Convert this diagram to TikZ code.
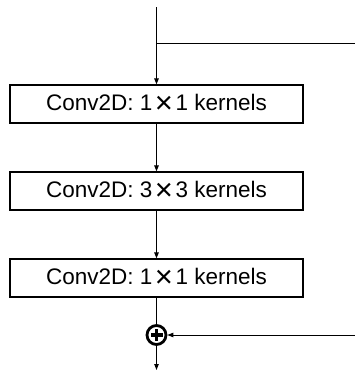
\documentclass[tikz,border=0pt]{standalone}
\usepackage{fontspec}
\setmainfont{Liberation Sans}
\usetikzlibrary{arrows.meta}
% a large multiplication sign set between the kernel sizes
\newcommand\kx{\hspace{2.5pt}\raisebox{-2.6pt}{\fontsize{31}{31}\selectfont ×}\hspace{2.5pt}}
\begin{document}
\begin{tikzpicture}[x=1pt,y=-1pt,
  convbox/.style={draw, line width=1.2pt, minimum width=293pt, minimum height=38pt,
    inner sep=0pt, font=\fontsize{22.5}{26}\selectfont},
  flow/.style={line width=1pt, -{Triangle[length=6pt,width=4.5pt]}},
  plain/.style={line width=1pt},
  sumnode/.style={circle, draw, line width=2.8pt, minimum size=19pt, inner sep=0pt,
    path picture={
      \fill ([xshift=-6pt,yshift=-1.8pt]path picture bounding box.center)
        rectangle ([xshift=6pt,yshift=1.8pt]path picture bounding box.center);
      \fill ([xshift=-1.8pt,yshift=-6pt]path picture bounding box.center)
        rectangle ([xshift=1.8pt,yshift=6pt]path picture bounding box.center);
    }}]
  \useasboundingbox (0,0) rectangle (355,372);

  \node[convbox] (c1) at (156.5,104) {Conv2D: 1\kx1 kernels};
  \node[convbox] (c2) at (156.5,191) {Conv2D: 3\kx3 kernels};
  \node[convbox] (c3) at (156.5,278) {Conv2D: 1\kx1 kernels};
  \node[sumnode] (sum) at (156.5,335) {};

  \coordinate (in) at (156.5,7);
  \coordinate (split) at (156.5,43);
  \coordinate (skipout) at (355,43);
  \coordinate (skipin) at (355,335);
  \coordinate (out) at (156.5,370);

  % main path
  \draw[plain] (in) -- (split);
  \draw[flow] (split) -- (c1);
  \draw[flow] (c1) -- (c2);
  \draw[flow] (c2) -- (c3);
  \draw[plain] (c3) -- (sum);
  \draw[flow] (sum) -- (out);

  % shortcut branch
  \draw[plain] (split) -- (skipout);
  \draw[flow] (skipin) -- (sum);
\end{tikzpicture}
\end{document}
